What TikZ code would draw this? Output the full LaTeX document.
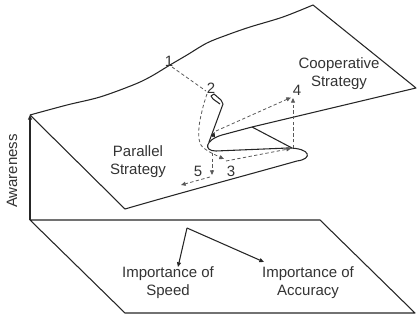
\documentclass[tikz,border=0pt]{standalone}
\usepackage{fontspec}
\setmainfont{Liberation Sans}
\usetikzlibrary{arrows.meta}
\begin{document}
\begin{tikzpicture}[x=0.75pt,y=-0.75pt,
  edge/.style={line width=0.8pt, draw=black!85, line join=round},
  dpath/.style={line width=0.6pt, draw=black!65, dash pattern=on 2.5pt off 1.8pt},
  tip/.style={-{Triangle[length=3.5pt,width=3pt]}},
  lbl/.style={font=\fontsize{11.25}{13.5}\selectfont, text=black!80, inner sep=0pt, align=center}]
\useasboundingbox (0,0) rectangle (417,320);
% key points
\coordinate (BL) at (30,115);
\coordinate (BR) at (313,5);
\coordinate (FR) at (416,88);
\coordinate (FL) at (125,209);
\coordinate (F1) at (252,127);
\coordinate (F2) at (292,148);
\coordinate (P1) at (172,67);
\coordinate (P2) at (206,91);
\coordinate (P3) at (224,159);
\coordinate (P4) at (293,98);
\coordinate (P5) at (212,175);
% upper sheet back edge
\draw[edge] plot[smooth, tension=0.55] coordinates {(30,115) (67,105) (100,97) (133,85) (150,77) (170,65) (187,55) (207,43) (227,35) (250,27) (283,17) (313,5)};
% right edge and folded front edge
\draw[edge] (BR) -- (FR) -- (F1) -- (222,135)
  .. controls (205,140) and (203,151) .. (216,151) -- (288,148)
  .. controls (311,148) and (313,159) .. (297,161)
  .. controls (240,177) and (180,193) .. (FL) -- (BL);
% fold line
\draw[edge] (F1) -- (F2);
% cusp edge with small hook
\draw[edge] (209,142) -- (223,104) -- (221,100) -- (214,94) -- (211,96) -- (213,99) -- (220,104);
\draw[edge, tip] (212.7,137) -- (214.6,132);
% awareness axis
\draw[edge, tip] (30,220) -- (BL);
% bottom plane
\draw[edge] (30,220) -- (320,220) -- (415,313) -- (125,313) -- cycle;
\coordinate (O) at (187,228);
\coordinate (SP) at (178,267);
\coordinate (AC) at (264,262);
\draw[edge, tip] (O) -- (SP);
\draw[edge, tip] (O) -- (AC);
% dashed trajectories
\draw[dpath] (P1) -- (P2);
\draw[dpath, tip] plot[smooth, tension=0.6] coordinates {(207,94) (203,107) (199,127) (200,143) (208,151) (P3)};
\draw[dpath, tip] (226,161) -- (291,148.5);
\draw[dpath, tip] (293,148) -- (P4);
\draw[dpath, tip] (216,131) -- (291,97.5);
\draw[dpath, tip] (212,153) -- (P5);
\draw[dpath, tip] (210,177) -- (181,185);
% labels
\node[lbl] (n1) at (169,61) {1};
\node[lbl] (n2) at (211,88) {2};
\node[lbl] (n3) at (231,171) {3};
\node[lbl] (n4) at (297,90) {4};
\node[lbl] (n5) at (198,171) {5};
\node[lbl] (coop) at (339,74) {Cooperative\\Strategy};
\node[lbl] (par) at (138,162) {Parallel\\Strategy};
\node[lbl, rotate=90] (aw) at (12,171) {Awareness};
\node[lbl] (spd) at (168,283) {Importance of\\Speed};
\node[lbl] (acc) at (308,283) {Importance of\\Accuracy};
\end{tikzpicture}
\end{document}
